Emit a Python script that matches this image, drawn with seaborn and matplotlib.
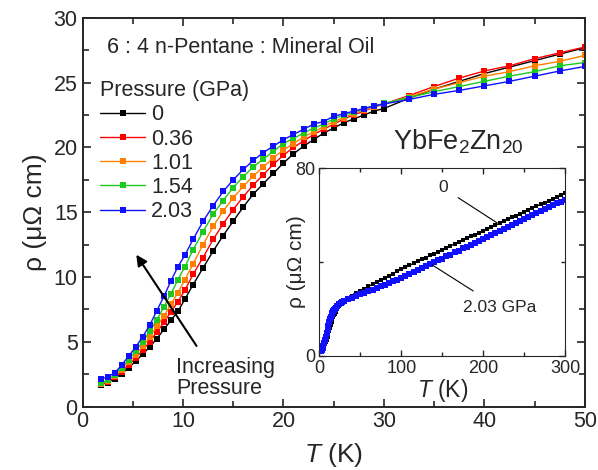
import numpy as np
import pandas as pd
import matplotlib
matplotlib.use('Agg')
import matplotlib.pyplot as plt
from matplotlib.ticker import MultipleLocator
import seaborn as sns

# main panel: rho(T) under pressure, low T
temps = [1.8, 2.5, 3.2, 3.9, 4.6, 5.3, 6, 6.7, 7.4, 8.1, 8.8, 9.5, 10.2, 11, 12, 13, 14, 15,
         16, 17, 18, 19, 20, 21, 22, 23, 24, 25, 26, 27, 28, 29, 30, 32.5, 35, 37.5, 40,
         42.5, 45, 47.5, 50]
rho_000 = [1.68, 1.85, 2.15, 2.55, 3.0, 3.5, 4.05, 4.6, 5.25, 5.95, 6.65, 7.35, 8.3, 9.4,
           10.7, 12.0, 13.2, 14.3, 15.4, 16.4, 17.2, 18.0, 18.8, 19.5, 20.1, 20.6, 21.1,
           21.5, 21.9, 22.2, 22.5, 22.8, 23.0, 23.8, 24.5, 25.1, 25.7, 26.2, 26.7, 27.2, 27.7]
rho_036 = [1.72, 1.9, 2.25, 2.7, 3.2, 3.75, 4.35, 5.0, 5.75, 6.5, 7.3, 8.1, 9.0, 10.2,
           11.5, 12.9, 14.1, 15.2, 16.2, 17.1, 17.9, 18.7, 19.4, 20.0, 20.5, 21.0, 21.4,
           21.8, 22.2, 22.5, 22.8, 23.1, 23.35, 24.0, 24.7, 25.35, 25.9, 26.3, 26.85, 27.3, 27.75]
rho_101 = [1.75, 1.95, 2.35, 2.85, 3.4, 4.0, 4.65, 5.35, 6.2, 7.0, 7.9, 8.8, 9.8, 11.0,
           12.5, 13.9, 15.1, 16.1, 17.0, 17.8, 18.5, 19.2, 19.8, 20.3, 20.8, 21.2, 21.6,
           22.0, 22.3, 22.6, 22.9, 23.1, 23.35, 23.9, 24.5, 25.0, 25.5, 25.85, 26.3, 26.65, 27.1]
rho_154 = [1.8, 2.05, 2.45, 3.0, 3.6, 4.3, 5.0, 5.8, 6.7, 7.7, 8.7, 9.8, 10.8, 12.1,
           13.5, 14.85, 15.9, 16.9, 17.75, 18.5, 19.1, 19.7, 20.3, 20.7, 21.1, 21.5, 21.8,
           22.2, 22.5, 22.7, 23.0, 23.2, 23.4, 23.85, 24.3, 24.7, 25.1, 25.5, 25.85, 26.3, 26.55]
rho_203 = [2.1, 2.3, 2.6, 3.2, 3.9, 4.6, 5.4, 6.3, 7.4, 8.5, 9.7, 10.8, 11.7, 12.9,
           14.3, 15.5, 16.6, 17.5, 18.3, 19.0, 19.6, 20.1, 20.6, 21.0, 21.4, 21.8, 22.0,
           22.4, 22.6, 22.8, 23.0, 23.2, 23.35, 23.7, 24.1, 24.4, 24.75, 25.1, 25.5, 25.9, 26.25]
pressures = ['0', '0.36', '1.01', '1.54', '2.03']
colors = ['#000000', '#ff0000', '#ff8000', '#1ec81e', '#1010ff']

# inset: full range 0 and 2.03 GPa
t_inset = [1.8, 3, 4, 5, 6, 7, 8, 9, 10, 11, 12, 13, 14, 15, 16, 17, 18, 19, 20, 22, 24, 26,
           28, 30, 35, 40, 45, 50, 55, 60, 65, 70, 75, 80, 85, 90, 95, 100, 105, 110, 115,
           120, 125, 130, 135, 140, 145, 150, 155, 160, 165, 170, 175, 180, 185, 190, 195,
           200, 205, 210, 215, 220, 225, 230, 235, 240, 245, 250, 255, 260, 265, 270, 275,
           280, 285, 290, 295, 300]
rho_inset_0 = [1.7, 2.1, 2.6, 3.3, 4.05, 4.9, 5.9, 6.9, 8.1, 9.4, 10.7, 12.0, 13.2, 14.3, 15.4,
               16.4, 17.2, 18.0, 18.8, 20.1, 21.1, 21.9, 22.5, 23.0, 24.5, 25.7, 26.7, 27.7,
               28.6, 29.6, 30.5, 31.5, 32.4, 33.3, 34.2, 35.1, 36.0, 36.9, 37.7, 38.6, 39.4,
               40.3, 41.1, 41.9, 42.8, 43.6, 44.4, 45.3, 46.1, 46.9, 47.7, 48.5, 49.3, 50.1,
               50.9, 51.7, 52.5, 53.3, 54.1, 54.9, 55.7, 56.5, 57.3, 58.2, 59.0, 59.8, 60.6,
               61.4, 62.2, 63.0, 63.8, 64.6, 65.3, 66.1, 66.9, 67.7, 68.5, 69.3]
rho_inset_203 = [2.1, 2.5, 3.3, 4.3, 5.4, 6.7, 8.2, 9.8, 11.45, 12.9, 14.3, 15.5, 16.6, 17.5,
                 18.3, 19.0, 19.6, 20.1, 20.6, 21.4, 22.0, 22.6, 23.0, 23.35, 24.1, 24.75,
                 25.5, 26.25, 26.8, 27.5, 28.2, 28.9, 29.6, 30.3, 31.0, 31.7, 32.5, 33.3,
                 34.1, 34.9, 35.7, 36.5, 37.3, 38.2, 39.0, 39.8, 40.7, 41.5, 42.4, 43.2, 44.1,
                 44.9, 45.8, 46.6, 47.4, 48.3, 49.1, 50.0, 50.8, 51.7, 52.5, 53.4, 54.2, 55.1,
                 55.9, 56.8, 57.6, 58.5, 59.3, 60.1, 60.9, 61.7, 62.6, 63.4, 64.2, 65.0, 65.8,
                 66.6]

df = pd.DataFrame({'T': temps * 5,
                   'rho': rho_000 + rho_036 + rho_101 + rho_154 + rho_203,
                   'P': sum([[p] * len(temps) for p in pressures], [])})

sns.set_style('ticks')
plt.rcParams['font.family'] = ['Liberation Sans', 'DejaVu Sans']
plt.rcParams['mathtext.fontset'] = 'custom'
plt.rcParams['mathtext.rm'] = 'Liberation Sans'
plt.rcParams['mathtext.it'] = 'Liberation Sans:italic'

fs = 15.5

fig = plt.figure(figsize=(5.98, 4.70), dpi=100)
ax = fig.add_axes([0.138, 0.135, 0.840, 0.827])

sns.lineplot(data=df, x='T', y='rho', hue='P', hue_order=pressures,
             palette=dict(zip(pressures, colors)), marker='s', markersize=4.5,
             markeredgewidth=0, linewidth=1.0, ax=ax, sort=False)

ax.set_xlim(0, 50)
ax.set_ylim(0, 30)
ax.xaxis.set_major_locator(MultipleLocator(10))
ax.xaxis.set_minor_locator(MultipleLocator(5))
ax.yaxis.set_major_locator(MultipleLocator(5))
ax.yaxis.set_minor_locator(MultipleLocator(2.5))
ax.tick_params(which='both', direction='in', top=True, right=True, width=1.2, labelsize=fs)
ax.tick_params(which='major', length=6)
ax.tick_params(which='minor', length=4)
for s in ax.spines.values():
    s.set_linewidth(1.4)
ax.set_xlabel(r'$\it{T}$ (K)', fontsize=19, labelpad=6)
ax.set_ylabel('ρ (μΩ cm)', fontsize=19, labelpad=5)

leg = ax.legend(title='Pressure (GPa)', loc='upper left', bbox_to_anchor=(0.035, 0.84),
                frameon=False, fontsize=fs, title_fontsize=fs, handlelength=2.1,
                handletextpad=0.28, labelspacing=0.15, borderaxespad=0, borderpad=0)
leg._legend_box.align = 'left'

ax.text(2.4, 27.7, '6 : 4 n-Pentane : Mineral Oil', fontsize=fs, va='center')
ax.text(30.9, 20.4, r'YbFe$_2$Zn$_{20}$', fontsize=19.5, va='center')
ax.annotate('', xy=(5.2, 11.9), xytext=(11.5, 4.5),
            arrowprops=dict(arrowstyle='-|>', color='black', lw=1.5, mutation_scale=16))
ax.text(9.35, 2.2, 'Increasing\nPressure', fontsize=fs, va='center', linespacing=1.05)

# inset
axi = fig.add_axes([0.534, 0.243, 0.411, 0.399])
sns.lineplot(x=t_inset, y=rho_inset_0, color='black', marker='s', markersize=2.8,
             markeredgewidth=0, linewidth=1.0, ax=axi)
sns.lineplot(x=t_inset, y=rho_inset_203, color='#1010ff', marker='s', markersize=4,
             markeredgewidth=0, linewidth=2.5, ax=axi)
axi.set_xlim(0, 300)
axi.set_ylim(0, 80)
axi.xaxis.set_major_locator(MultipleLocator(100))
axi.xaxis.set_minor_locator(MultipleLocator(50))
axi.yaxis.set_major_locator(MultipleLocator(80))
axi.yaxis.set_minor_locator(MultipleLocator(40))
axi.tick_params(which='both', direction='in', top=True, right=True, width=1, labelsize=13)
axi.tick_params(axis='x', pad=3)
axi.tick_params(axis='y', pad=3)
axi.tick_params(which='major', length=4)
axi.tick_params(which='minor', length=3)
axi.set_xlabel(r'$\it{T}$ (K)', fontsize=16.5, labelpad=0)
axi.set_ylabel('ρ (μΩ cm)', fontsize=15, labelpad=-8)
axi.annotate('0', xy=(217, 56.7), xytext=(151, 71.6), fontsize=12.5, ha='center', va='center',
             arrowprops=dict(arrowstyle='-', color='black', lw=0.8, shrinkA=6, shrinkB=0))
axi.annotate('2.03 GPa', xy=(137.6, 38.8), xytext=(220, 20.5), fontsize=12.5, ha='center',
             va='center', arrowprops=dict(arrowstyle='-', color='black', lw=0.8, shrinkA=8, shrinkB=0))

fig.savefig('out.png', dpi=100)
